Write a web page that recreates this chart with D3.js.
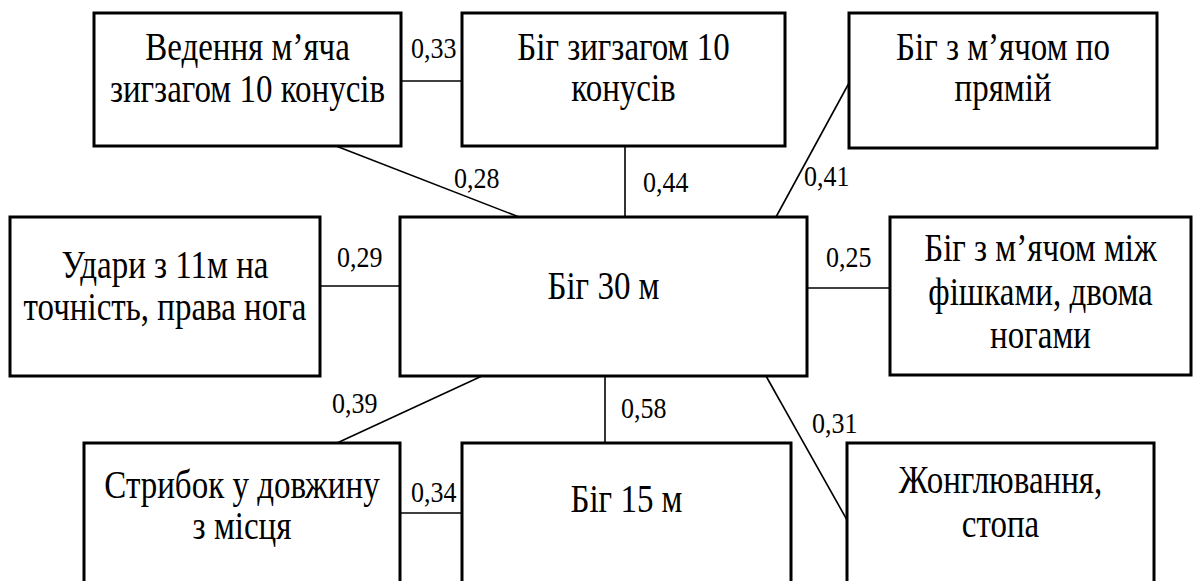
<!DOCTYPE html>
<meta charset="utf-8">
<style>
body { margin: 0; background: #fff; }
svg { display: block; }
text { font-size: 33px; }
text.coef { font-size: 26px; }
</style>
<svg width="1193" height="581"></svg>
<script src="https://d3js.org/d3.v7.min.js"></script>
<script>

// tests (box labels), one entry per node
var nodeIds = ["A", "B", "C", "D", "E", "F", "G", "H", "I"];
var nodeLabels = [
  ["Ведення м’яча", "зигзагом 10 конусів"],
  ["Біг зигзагом 10", "конусів"],
  ["Біг з м’ячом по", "прямій"],
  ["Удари з 11м на", "точність, права нога"],
  ["Біг 30 м"],
  ["Біг з м’ячом між", "фішками, двома", "ногами"],
  ["Стрибок у довжину", "з місця"],
  ["Біг 15 м"],
  ["Жонглювання,", "стопа"]
];

// correlations between tests
var linkSource = ["A", "A", "B", "C", "D", "E", "E", "E", "G", "E"];
var linkTarget = ["B", "E", "E", "E", "E", "F", "G", "H", "H", "I"];
var linkValues = [0.33, 0.28, 0.44, 0.41, 0.29, 0.25, 0.39, 0.58, 0.34, 0.31];

// ---- layout (positions only) ----
var boxes = {
  A: {x: 94,  y: 13,  w: 307, h: 133, ty: 47, gap: 42},
  B: {x: 462, y: 13,  w: 323, h: 133, ty: 47, gap: 41},
  C: {x: 849, y: 13,  w: 308, h: 135, ty: 47, gap: 41},
  D: {x: 10,  y: 217, w: 310, h: 159, ty: 61, gap: 42},
  E: {x: 400, y: 217, w: 407, h: 159, ty: 82, gap: 42},
  F: {x: 890, y: 217, w: 301, h: 158, ty: 44, gap: 43.5},
  G: {x: 84,  y: 443, w: 316, h: 160, ty: 55, gap: 41},
  H: {x: 462, y: 443, w: 329, h: 160, ty: 69, gap: 42},
  I: {x: 847, y: 443, w: 307, h: 160, ty: 50, gap: 44}
};

// where each link leaves its source / enters its target: [side, position along side in px]
var anchors = [
  [["right", 68], ["left", 68]],
  [["bottom", 242], ["top", 119]],
  [["bottom", 163], ["top", 225]],
  [["left", 70], ["top", 376]],
  [["right", 69], ["left", 69]],
  [["right", 71], ["left", 71]],
  [["bottom", 82], ["top", 253]],
  [["bottom", 205], ["top", 143]],
  [["right", 70], ["left", 70]],
  [["bottom", 366], ["left", 77]]
];
// coefficient label positions (left x, baseline)
var coefPos = [
  [411, 58], [454, 188], [643, 192], [804, 186], [337, 267],
  [826, 267], [332, 413], [621, 418], [411, 502], [812, 433]
];

var nameStretch = 1.24;   // text in the source is drawn tall and narrow
var coefStretch = 1.1;

var svg = d3.select("svg");

function point(id, a) {
  var b = boxes[id];
  if (a[0] === "left") return [b.x, b.y + a[1]];
  if (a[0] === "right") return [b.x + b.w, b.y + a[1]];
  if (a[0] === "top") return [b.x + a[1], b.y];
  return [b.x + a[1], b.y + b.h];
}

var links = linkValues.map(function(v, i) {
  return {
    value: v,
    p1: point(linkSource[i], anchors[i][0]),
    p2: point(linkTarget[i], anchors[i][1]),
    pos: coefPos[i]
  };
});

var fmt = function(v) { return d3.format(".2f")(v).replace(".", ","); };

svg.selectAll("line.link")
  .data(links)
  .enter().append("line")
    .attr("class", "link")
    .attr("x1", function(d) { return d.p1[0]; })
    .attr("y1", function(d) { return d.p1[1]; })
    .attr("x2", function(d) { return d.p2[0]; })
    .attr("y2", function(d) { return d.p2[1]; })
    .attr("stroke", "#000")
    .attr("stroke-width", 1.6);

svg.selectAll("rect.box")
  .data(nodeIds)
  .enter().append("rect")
    .attr("class", "box")
    .attr("x", function(d) { return boxes[d].x; })
    .attr("y", function(d) { return boxes[d].y; })
    .attr("width", function(d) { return boxes[d].w; })
    .attr("height", function(d) { return boxes[d].h; })
    .attr("fill", "#fff")
    .attr("stroke", "#000")
    .attr("stroke-width", 3);

// one <text> per line, flat list
var lines = [];
nodeIds.forEach(function(id, i) {
  var b = boxes[id];
  nodeLabels[i].forEach(function(t, j) {
    lines.push({t: t, x: b.x + b.w / 2, y: b.y + b.ty + j * b.gap});
  });
});

svg.selectAll("text.name")
  .data(lines)
  .enter().append("text")
    .attr("class", "name")
    .attr("transform", function(d) {
      return "translate(" + d.x + "," + d.y + ") scale(1," + nameStretch + ")";
    })
    .style("font-family", function() { return "'Liberation Serif'"; })
    .attr("text-anchor", "middle")
    .text(function(d) { return d.t; });

svg.selectAll("text.coef")
  .data(links)
  .enter().append("text")
    .attr("class", "coef")
    .attr("transform", function(d) {
      return "translate(" + d.pos[0] + "," + d.pos[1] + ") scale(1," + coefStretch + ")";
    })
    .style("font-family", function() { return "'Liberation Serif'"; })
    .text(function(d) { return fmt(d.value); });

</script>
